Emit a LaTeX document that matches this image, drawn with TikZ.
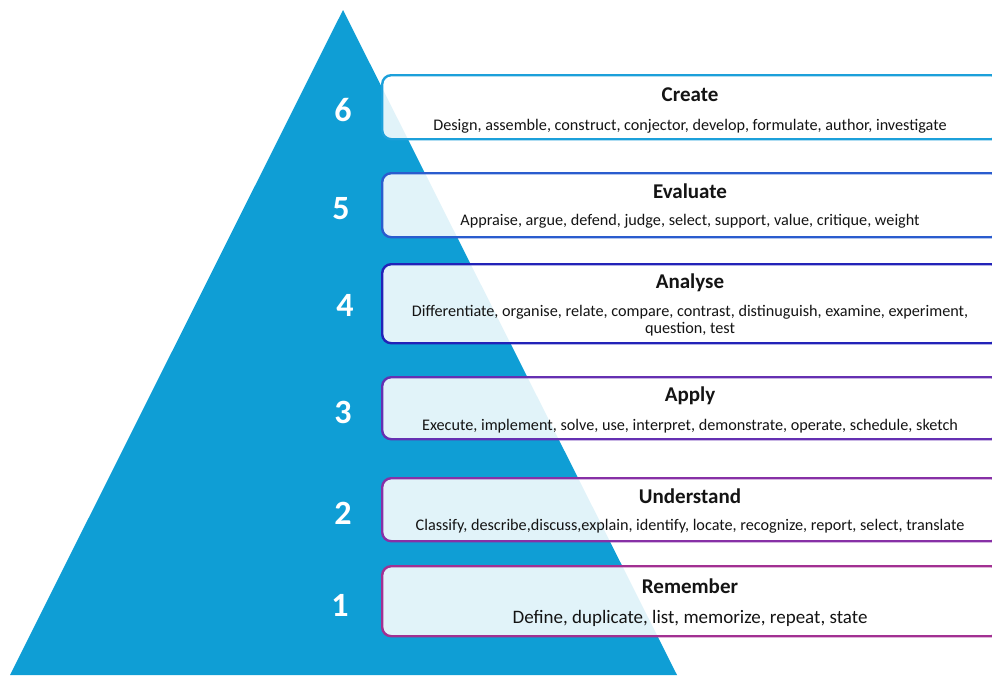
\documentclass[tikz,border=0pt]{standalone}
\usepackage{fontspec}
\setmainfont{Carlito}
\usetikzlibrary{positioning}

\definecolor{pyramid}{HTML}{0F9ED5}
\definecolor{lvlsix}{HTML}{1CA0DA}
\definecolor{lvlfive}{HTML}{2A5CCE}
\definecolor{lvlfour}{HTML}{2222B8}
\definecolor{lvlthree}{HTML}{6530B2}
\definecolor{lvltwo}{HTML}{8730A6}
\definecolor{lvlone}{HTML}{A23092}
\definecolor{ink}{HTML}{141414}

\tikzset{
  level/.style={draw=#1, line width=2.4pt, rounded corners=9pt, fill=white, fill opacity=0.88,
    draw opacity=1, minimum width=618pt, inner sep=0pt, anchor=north west},
  title/.style={text=ink, font=\fontsize{21}{24}\selectfont\bfseries, inner sep=0pt},
  verbs/.style={text=ink, font=\fontsize{16.2}{17}\selectfont, inner sep=0pt, align=center},
  num/.style={text=white, font=\fontsize{34}{36}\selectfont\bfseries, inner sep=0pt}
}

\begin{document}
\begin{tikzpicture}[x=1pt,y=-1pt]
  \useasboundingbox (0,0) rectangle (992,675);
  \clip (0,0) rectangle (992,675);

  % The pyramid
  \fill[pyramid] (343,10) -- (677,675) -- (10,675) -- cycle;

  % Level numbers
  \foreach \n/\x/\y in {6/343/110, 5/341/209, 4/345/305, 3/343/412, 2/343/513, 1/340/605} {
    \node[num] (n\n) at (\x,\y) {\n};
  }

  % Level boxes (they run off the right edge)
  \node[level=lvlsix, minimum height=64pt] (create) at (381,74) {};
  \node[level=lvlfive, minimum height=64pt] (evaluate) at (381,172) {};
  \node[level=lvlfour, minimum height=79pt] (analyse) at (381,263) {};
  \node[level=lvlthree, minimum height=62pt] (apply) at (381,376) {};
  \node[level=lvltwo, minimum height=63pt] (understand) at (381,477) {};
  \node[level=lvlone, minimum height=70pt] (remember) at (381,565) {};

  % Titles and verbs
  \node[title] (t6) at (690,95) {Create};
  \node[verbs] (v6) at (690,126) {Design, assemble, construct, conjector, develop, formulate, author, investigate};

  \node[title] (t5) at (690,191) {Evaluate};
  \node[verbs] (v5) at (690,221) {Appraise, argue, defend, judge, select, support, value, critique, weight};

  \node[title] (t4) at (690,283) {Analyse};
  \node[verbs, anchor=north] (v4) at (690,305) {Differentiate, organise, relate, compare, contrast, distinuguish, examine, experiment,\\ question, test};

  \node[title] (t3) at (690,396) {Apply};
  \node[verbs] (v3) at (690,426) {Execute, implement, solve, use, interpret, demonstrate, operate, schedule, sketch};

  \node[title] (t2) at (690,496) {Understand};
  \node[verbs] (v2) at (690,526) {Classify, describe,discuss,explain, identify, locate, recognize, report, select, translate};

  \node[title] (t1) at (690,586) {Remember};
  \node[verbs, font=\fontsize{19}{21}\selectfont] (v1) at (690,618) {Define, duplicate, list, memorize, repeat, state};
\end{tikzpicture}
\end{document}
